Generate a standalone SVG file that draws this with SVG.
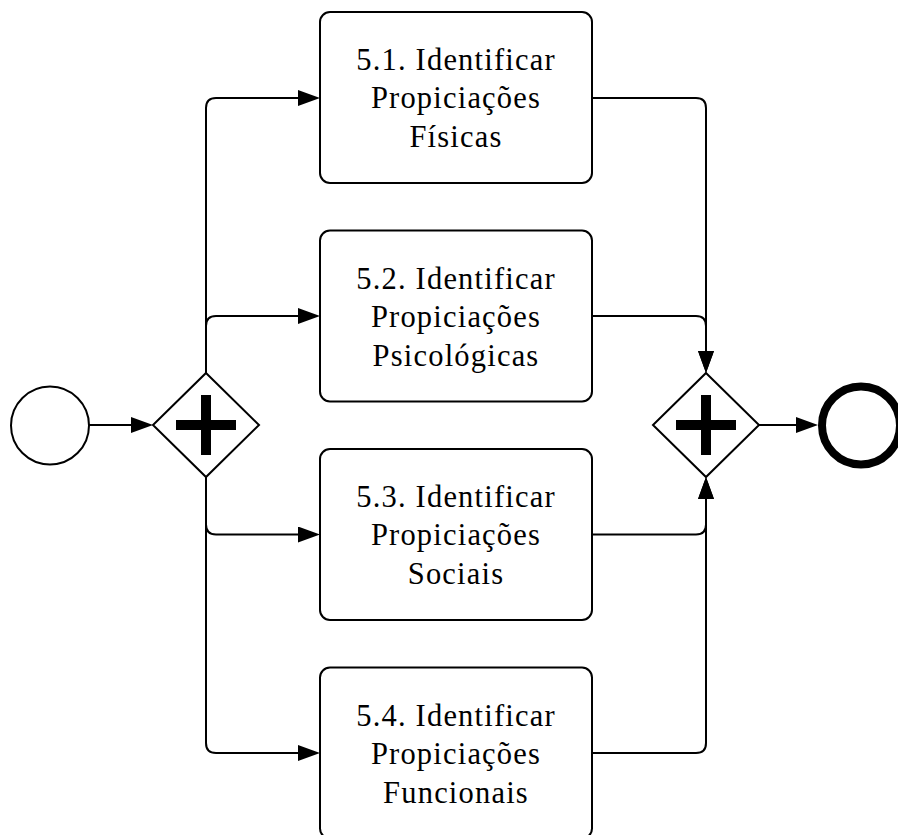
<svg xmlns="http://www.w3.org/2000/svg" width="898" height="835" viewBox="0 0 898 835">
  <style>
    .task { fill: #fff; stroke: #000; stroke-width: 2; }
    .gw { fill: #fff; stroke: #000; stroke-width: 2; }
    .flow { fill: none; stroke: #000; stroke-width: 2; marker-end: url(#arrow); }
    .lbl { font-family: "Liberation Serif", "DejaVu Serif", serif; font-size: 30.5px; letter-spacing: 1.2px; text-anchor: middle; fill: #000; }
  </style>
  <defs>
    <marker id="arrow" viewBox="0 0 22 16" refX="12" refY="8" markerWidth="22" markerHeight="16" markerUnits="userSpaceOnUse" orient="auto">
      <path d="M0,0 L22,8 L0,16 z" fill="#000"/>
    </marker>
    <g id="plus">
      <rect x="-30" y="-5" width="60" height="10" fill="#000"/>
      <rect x="-5" y="-30" width="10" height="60" fill="#000"/>
    </g>
  </defs>

  <!-- sequence flows -->
  <g id="connectors">
    <path class="flow" d="M89,425 L143,425"/>
    <!-- split -->
    <path class="flow" d="M206,373 L206,108 Q206,98 216,98 L310,98"/>
    <path class="flow" d="M206,373 L206,326 Q206,316 216,316 L310,316"/>
    <path class="flow" d="M206,477 L206,524.5 Q206,534.5 216,534.5 L310,534.5"/>
    <path class="flow" d="M206,477 L206,743 Q206,753 216,753 L310,753"/>
    <!-- join -->
    <path class="flow" d="M592,98 L696,98 Q706,98 706,108 L706,363"/>
    <path class="flow" d="M592,316 L696,316 Q706,316 706,326 L706,363"/>
    <path class="flow" d="M592,534.5 L696,534.5 Q706,534.5 706,524.5 L706,487"/>
    <path class="flow" d="M592,753 L696,753 Q706,753 706,743 L706,487"/>
    <path class="flow" d="M759,425 L808,425"/>
  </g>

  <g id="start">
    <circle cx="50" cy="425.5" r="39" fill="#fff" stroke="#000" stroke-width="2"/>
  </g>

  <g id="split">
    <path class="gw" d="M206,373 L259,425 L206,477 L153,425 z"/>
    <use href="#plus" x="206" y="425"/>
  </g>

  <g id="task1">
    <rect class="task" x="320" y="12" width="272" height="171" rx="10"/>
    <text class="lbl" x="456" y="70">5.1. Identificar</text>
    <text class="lbl" x="456" y="108">Propiciações</text>
    <text class="lbl" x="456" y="147">Físicas</text>
  </g>

  <g id="task2">
    <rect class="task" x="320" y="230.5" width="272" height="171" rx="10"/>
    <text class="lbl" x="456" y="288.5">5.2. Identificar</text>
    <text class="lbl" x="456" y="326.5">Propiciações</text>
    <text class="lbl" x="456" y="365.5">Psicológicas</text>
  </g>

  <g id="task3">
    <rect class="task" x="320" y="449" width="272" height="171" rx="10"/>
    <text class="lbl" x="456" y="507">5.3. Identificar</text>
    <text class="lbl" x="456" y="545">Propiciações</text>
    <text class="lbl" x="456" y="584">Sociais</text>
  </g>

  <g id="task4">
    <rect class="task" x="320" y="667.5" width="272" height="171" rx="10"/>
    <text class="lbl" x="456" y="725.5">5.4. Identificar</text>
    <text class="lbl" x="456" y="763.5">Propiciações</text>
    <text class="lbl" x="456" y="802.5">Funcionais</text>
  </g>

  <g id="join">
    <path class="gw" d="M706,373 L759,425 L706,477 L653,425 z"/>
    <use href="#plus" x="706" y="425"/>
  </g>

  <g id="end">
    <circle cx="861" cy="425.5" r="39" fill="#fff" stroke="#000" stroke-width="8"/>
  </g>
</svg>
